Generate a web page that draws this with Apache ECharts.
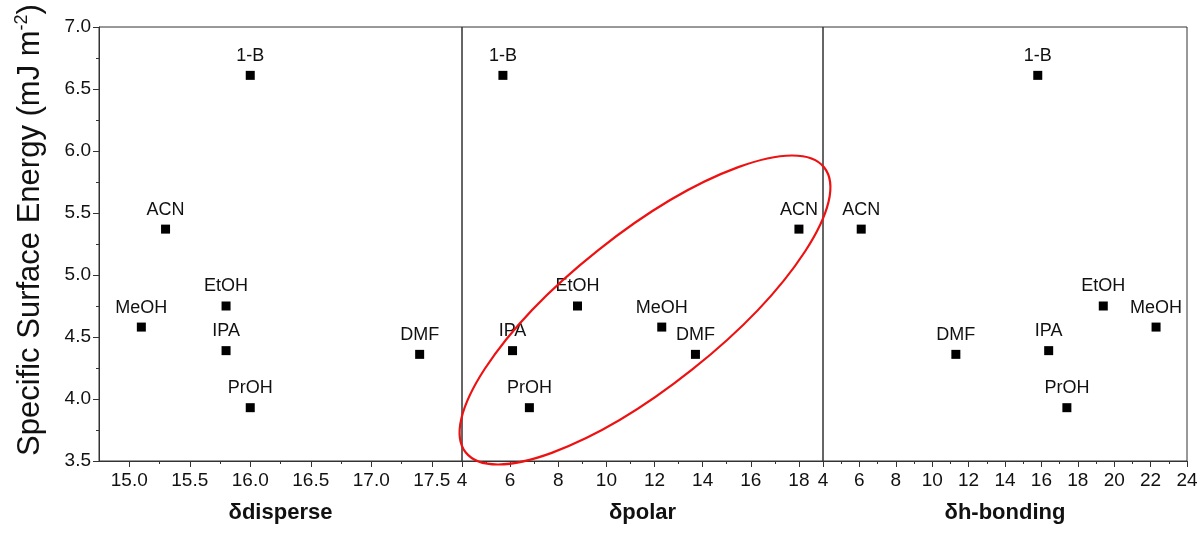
<!DOCTYPE html>
<html>
<head>
<meta charset="utf-8">
<script src="https://cdn.jsdelivr.net/npm/echarts@6/dist/echarts.min.js"></script>
<style>
  html, body { margin: 0; padding: 0; background: #fff; }
  #chart { width: 1202px; height: 540px; }
</style>
</head>
<body>
<div id="chart"></div>
<script>
// solvent data (Hansen parameters vs specific surface energy)
const solvents = ['1-B', 'ACN', 'EtOH', 'MeOH', 'IPA', 'DMF', 'PrOH'];
const surfaceEnergy = [6.61, 5.37, 4.75, 4.58, 4.39, 4.36, 3.93];
const deltaDisperse = [16.0, 15.3, 15.8, 15.1, 15.8, 17.4, 16.0];
const deltaPolar = [5.7, 18.0, 8.8, 12.3, 6.1, 13.7, 6.8];
const deltaHBond = [15.8, 6.1, 19.4, 22.3, 16.4, 11.3, 17.4];

const panelNames = ['δdisperse', 'δpolar', 'δh-bonding'];
const panelRanges = [[14.75, 17.75], [4, 19], [4, 24]];
const majorTicks = [
    [15.0, 15.5, 16.0, 16.5, 17.0, 17.5],
    [4, 6, 8, 10, 12, 14, 16, 18],
    [4, 6, 8, 10, 12, 14, 16, 18, 20, 22, 24]
];
const minorTicks = [
    [15.25, 15.75, 16.25, 16.75, 17.25],
    [5, 7, 9, 11, 13, 15, 17],
    [5, 7, 9, 11, 13, 15, 17, 19, 21, 23]
];
const yTicks = [3.5, 7.0];

const font = 'Arial, "Liberation Sans", sans-serif';
const ink = '#111';
const lineColor = '#333';

const chart = echarts.init(document.getElementById('chart'));

const grids = [
    {left: 99, top: 27, width: 363, bottom: 79},
    {left: 462, top: 27, width: 361, bottom: 79},
    {left: 823, top: 27, width: 364, bottom: 79}
].map(g => Object.assign(g, {show: true, borderColor: lineColor, borderWidth: 1}));

let xAxes = [];
// main axes with labels
for (let i = 0; i < 3; i++) {
    xAxes.push({
        type: 'value',
        gridIndex: i,
        position: 'bottom',
        min: panelRanges[i][0],
        max: panelRanges[i][1],
        name: panelNames[i],
        nameLocation: 'middle',
        nameGap: 41,
        nameTextStyle: {fontFamily: font, fontSize: 22, fontWeight: 'bold', color: ink},
        axisLine: {lineStyle: {color: lineColor, width: 1}},
        axisTick: {show: true, length: 6, customValues: majorTicks[i], lineStyle: {color: lineColor}},
        axisLabel: {
            customValues: majorTicks[i],
            fontFamily: font, fontSize: 19, color: ink, margin: 10,
            formatter: v => (i === 0 ? v.toFixed(1) : String(v))
        },
        splitLine: {show: false}
    });
}
// minor tick axes
for (let i = 0; i < 3; i++) {
    xAxes.push({
        type: 'value',
        gridIndex: i,
        position: 'bottom',
        min: panelRanges[i][0],
        max: panelRanges[i][1],
        axisLine: {show: false},
        axisTick: {show: true, length: 3, customValues: minorTicks[i], lineStyle: {color: lineColor}},
        axisLabel: {show: false},
        splitLine: {show: false}
    });
}

const yAxes = [0, 1, 2].map(i => ({
    type: 'value',
    gridIndex: i,
    min: yTicks[0],
    max: yTicks[1],
    interval: 0.5,
    show: i === 0,
    name: i === 0 ? '{t|Specific Surface Energy (mJ m}{s|-2}{t|)}' : '',
    nameLocation: 'middle',
    nameRotate: 90,
    nameGap: 52,
    nameTextStyle: {
        padding: [0, 0, 0, 28],
        rich: {
            t: {fontFamily: font, fontSize: 31, color: ink},
            s: {fontFamily: font, fontSize: 18, color: ink, padding: [0, 0, 16, 0]}
        }
    },
    axisLine: {show: true, lineStyle: {color: lineColor}},
    axisTick: {show: true, length: 6, lineStyle: {color: lineColor}},
    minorTick: {show: true, splitNumber: 2, length: 3, lineStyle: {color: lineColor}},
    axisLabel: {fontFamily: font, fontSize: 19, color: ink, margin: 8, formatter: v => v.toFixed(1)},
    splitLine: {show: false}
}));

const xValues = [deltaDisperse, deltaPolar, deltaHBond];
const series = xValues.map((xs, i) => ({
    type: 'scatter',
    xAxisIndex: i,
    yAxisIndex: i,
    symbol: 'rect',
    symbolSize: 9,
    itemStyle: {color: '#000', opacity: 1},
    label: {
        show: true,
        position: 'top',
        distance: 6,
        formatter: '{b}',
        fontFamily: font,
        fontSize: 18,
        color: ink
    },
    data: solvents.map((s, k) => ({name: s, value: [xs[k], surfaceEnergy[k]]}))
}));

chart.setOption({
    animation: false,
    backgroundColor: '#fff',
    grid: grids,
    xAxis: xAxes,
    yAxis: yAxes,
    series: series,
    graphic: [{
        // red ellipse annotation around the polar panel
        type: 'ellipse',
        x: 645,
        y: 310,
        rotation: 38.5 * Math.PI / 180,
        shape: {cx: 0, cy: 0, rx: 229, ry: 76},
        style: {fill: 'none', stroke: '#ee1111', lineWidth: 2.2},
        z: 100
    }]
});
</script>
</body>
</html>
